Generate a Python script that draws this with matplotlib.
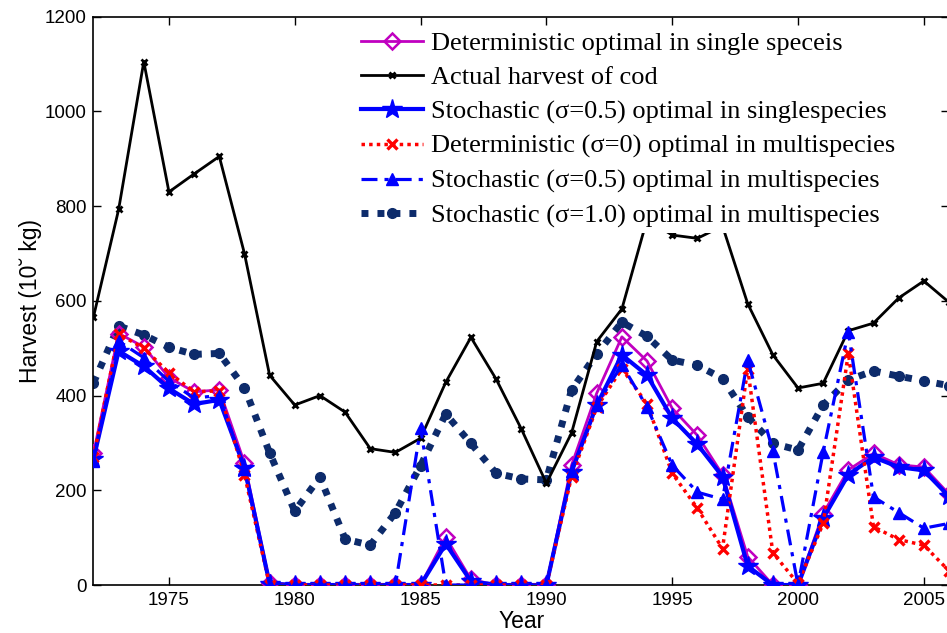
import matplotlib
matplotlib.use("Agg")
import matplotlib.pyplot as plt

years = list(range(1972, 2007))

actual_cod = [566, 793, 1105, 830, 868, 905, 700, 443, 380, 400, 365, 288, 280, 310,
              428, 523, 435, 330, 215, 321, 514, 583, 772, 739, 732, 758, 594, 486,
              416, 426, 537, 553, 606, 642, 597]

det_single = [278, 531, 503, 438, 408, 412, 258, 5, 0, 0, 0, 0, 0, 0,
              101, 12, 0, 0, 0, 253, 405, 524, 473, 373, 316, 233, 60, 0,
              0, 151, 243, 278, 254, 249, 192]

stoch_single = [266, 494, 462, 415, 382, 391, 248, 3, 0, 0, 0, 0, 0, 0,
                87, 8, 0, 0, 0, 239, 380, 486, 443, 352, 297, 229, 40, 0,
                0, 141, 233, 270, 249, 242, 187]

det_multi = [270, 530, 500, 448, 408, 410, 233, 0, 0, 0, 0, 0, 0, 0,
             0, 0, 0, 0, 0, 229, 375, 457, 382, 236, 162, 77, 457, 68,
             3, 130, 489, 123, 96, 84, 30]

stoch_multi_05 = [262, 515, 480, 430, 395, 400, 245, 0, 0, 0, 0, 0, 0, 331,
                  0, 0, 0, 0, 0, 240, 380, 465, 376, 253, 196, 181, 475, 283,
                  0, 281, 535, 186, 153, 120, 130]

stoch_multi_10 = [427, 547, 528, 502, 487, 489, 417, 279, 156, 228, 97, 84, 153, 252,
                  361, 299, 236, 224, 222, 412, 488, 555, 525, 475, 464, 436, 355, 299,
                  285, 380, 433, 452, 441, 431, 421]

labels = [
    "Deterministic optimal in single speceis",
    "Actual harvest of cod",
    "Stochastic (\u03c3=0.5) optimal in singlespecies",
    "Deterministic (\u03c3=0) optimal in multispecies",
    "Stochastic (\u03c3=0.5) optimal in multispecies",
    "Stochastic (\u03c3=1.0) optimal in multispecies",
]

fig = plt.figure(figsize=(9.47, 6.33), dpi=100)
ax = fig.add_axes([0.0987, 0.0758, 0.9034, 0.8978])

h_det_single, = ax.plot(years, det_single, color="#c000c0", lw=2, marker="D",
                        ms=8, mfc="none", mew=1.8, zorder=3)
h_actual, = ax.plot(years, actual_cod, color="black", lw=2, marker="x",
                    ms=5, mew=2, zorder=4)
h_stoch_single, = ax.plot(years, stoch_single, color="#0000ff", lw=3, marker="*",
                          ms=15, zorder=5)
h_det_multi, = ax.plot(years, det_multi, color="#ff0000", lw=2.5, ls=(0, (1, 1.2)),
                       marker="x", ms=6.5, mew=2.4, zorder=6)
h_stoch_multi_05, = ax.plot(years, stoch_multi_05, color="#0000ff", lw=2.3,
                            ls=(0, (5, 2.2, 1.3, 2.2)), marker="^", ms=8, zorder=6)
h_stoch_multi_10, = ax.plot(years, stoch_multi_10, color="#0d2b6b", lw=5,
                            ls=(0, (1.0, 1.3)), marker="o", ms=7, zorder=2)

ax.set_xlim(1972, 2006)
ax.set_ylim(0, 1200)
ax.set_xticks(range(1975, 2006, 5))
ax.set_yticks(range(0, 1201, 200))
ax.tick_params(direction="in", top=True, right=True, length=6, width=1,
               labelsize=13.5, pad=5)
for lab in ax.get_xticklabels() + ax.get_yticklabels():
    lab.set_fontfamily("Liberation Sans")
for s in ax.spines.values():
    s.set_linewidth(1.2)

ax.set_xlabel("Year", fontsize=16.5, family="Liberation Sans", labelpad=1)
ax.set_ylabel("Harvest (10\u02d8 kg)", fontsize=16.5, family="Liberation Sans",
              labelpad=2)

leg = ax.legend([h_det_single, h_actual, h_stoch_single, h_det_multi,
                 h_stoch_multi_05, h_stoch_multi_10], labels,
                loc="upper left", bbox_to_anchor=(356 / 947, 1 - 26 / 633),
                bbox_transform=fig.transFigure,
                prop={"family": "Liberation Serif", "size": 19},
                frameon=True, fancybox=False, framealpha=1, edgecolor="none",
                facecolor="white", handlelength=2.35, handletextpad=0.3,
                labelspacing=0.41, borderpad=0.2, borderaxespad=0)
leg.set_zorder(10)

fig.savefig("out.png", dpi=100)
